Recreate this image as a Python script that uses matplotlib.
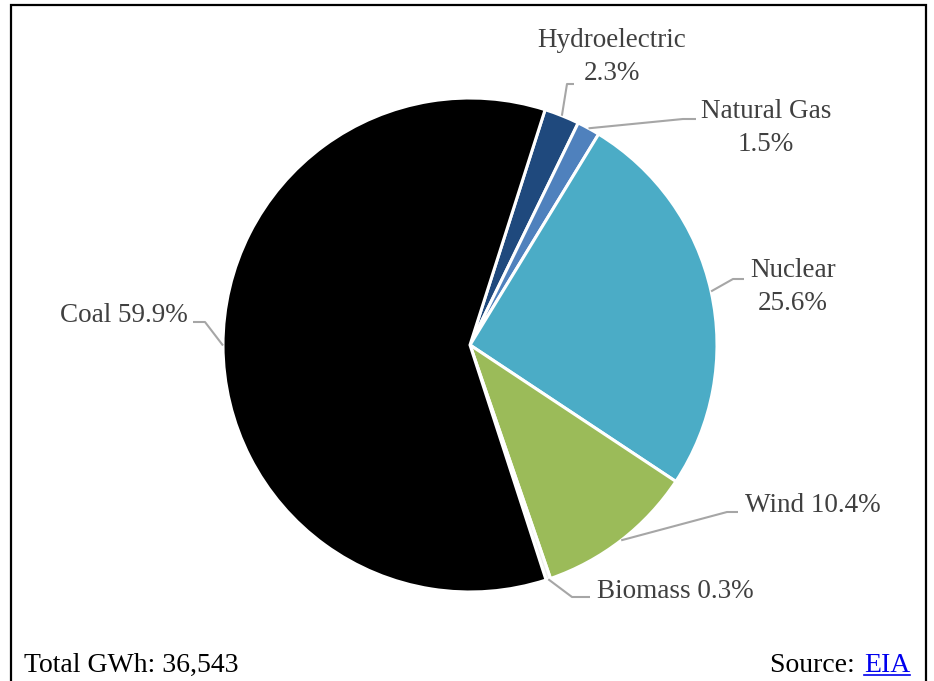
import matplotlib.pyplot as plt
from matplotlib.patches import Rectangle
import numpy as np

# Data (clockwise from the top)
sources = ["Hydroelectric", "Natural Gas", "Nuclear", "Wind", "Biomass", "Coal"]
shares = [2.3, 1.5, 25.6, 10.4, 0.3, 59.9]
colors = ["#1F497D", "#4F81BD", "#4BACC6", "#9BBB59", "#EDEDED", "#000000"]
total_gwh = "36,543"

W, H = 934, 681


def px(x, y):
    # pixel position (from top-left) -> data coords of the full-figure axes
    return x, H - y


def main():
    plt.rcParams['font.family'] = ['Liberation Serif', 'DejaVu Serif']
    fig = plt.figure(figsize=(W / 100, H / 100), dpi=100)
    ax = fig.add_axes([0, 0, 1, 1])

    cx, cy = px(470, 345)
    r = 247
    start = 72.3
    wedges, _ = ax.pie(shares, colors=colors, startangle=start, counterclock=False,
                       center=(cx, cy), radius=r, frame=True,
                       wedgeprops=dict(edgecolor="white", linewidth=2.2))
    ax.set_xlim(0, W)
    ax.set_ylim(0, H)
    ax.set_aspect('equal')
    ax.axis('off')

    # label text, text position (px), elbow (px), line end (px)
    labels = {
        "Hydroelectric": ("Hydroelectric\n2.3%", (612, 57), (567, 84), (574, 84)),
        "Natural Gas": ("Natural Gas\n1.5%", (766, 128), (683, 119), (696, 119)),
        "Nuclear": ("Nuclear\n25.6%", (793, 287), (733, 279), (744, 279)),
        "Wind": ("Wind 10.4%", (813, 505), (727, 512), (738, 512)),
        "Biomass": ("Biomass 0.3%", (675, 591), (572, 597), (590, 597)),
        "Coal": ("Coal 59.9%", (124, 316), (205, 322), (193, 322)),
    }

    gray = "#A6A6A6"
    for w, name in zip(wedges, sources):
        mid = np.deg2rad((w.theta1 + w.theta2) / 2)
        ex = cx + r * np.cos(mid)
        ey = cy + r * np.sin(mid)
        txt, tpos, elbow, end = labels[name]
        bx, by = px(*elbow)
        lx, ly = px(*end)
        ax.plot([ex, bx, lx], [ey, by, ly], color=gray, lw=1.5, solid_capstyle='butt')
        tx, ty = px(*tpos)
        ax.text(tx, ty, txt, ha="center", va="center", fontsize=19.5, color="#404040",
                linespacing=1.37)

    # footer
    fs = 20
    ax.text(*px(24, 665), "Total GWh: " + total_gwh, ha="left", va="center",
            fontsize=fs, color="black")
    eia = ax.text(*px(910, 665), "EIA", ha="right", va="center", fontsize=fs,
                  color="#0000EE")
    fig.canvas.draw()
    bb = eia.get_window_extent()
    ax.text(bb.x0 - 2, px(0, 665)[1], "Source: ", ha="right", va="center",
            fontsize=fs, color="black")
    ax.plot([bb.x0, bb.x1], [bb.y0 + 3, bb.y0 + 3], color="#0000EE", lw=1.2)

    # outer border (bottom edge runs off the image)
    fig.patches.append(Rectangle((11, -10), 915, H - 5 + 10, transform=None,
                                 fill=False, edgecolor="black", linewidth=1.6))

    fig.savefig("out.png", dpi=100)


if __name__ == "__main__":
    main()
